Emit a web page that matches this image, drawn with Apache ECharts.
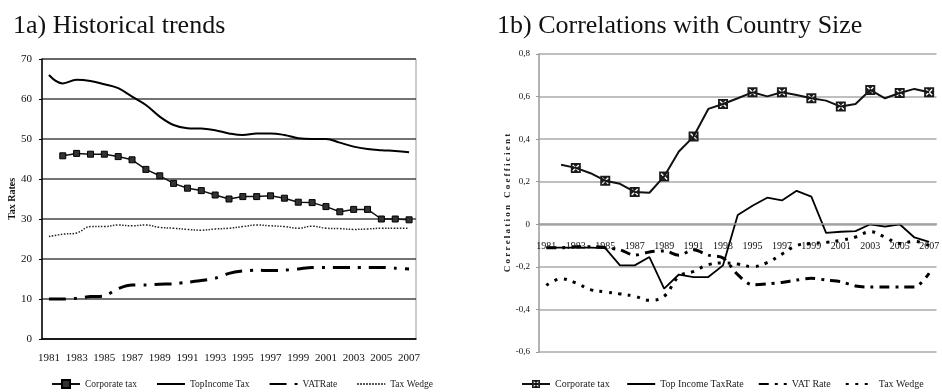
<!DOCTYPE html>
<html>
<head>
<meta charset="utf-8">
<script src="https://cdn.jsdelivr.net/npm/echarts@6/dist/echarts.min.js"></script>
<style>html,body{margin:0;padding:0;background:#fff;}#c{width:942px;height:392px;}</style>
</head>
<body>
<div id="c"></div>
<script>
const years = ['1981','1982','1983','1984','1985','1986','1987','1988','1989','1990','1991','1992','1993','1994','1995','1996','1997','1998','1999','2000','2001','2002','2003','2004','2005','2006','2007'];

// 1a) Historical trends
const corpTaxA   = [null, 45.8, 46.4, 46.2, 46.2, 45.6, 44.8, 42.4, 40.8, 38.9, 37.7, 37.1, 36.0, 35.0, 35.6, 35.6, 35.8, 35.2, 34.2, 34.1, 33.1, 31.8, 32.4, 32.4, 30.0, 30.0, 29.8];
const topIncomeA = [66.0, 63.9, 64.8, 64.5, 63.7, 62.7, 60.6, 58.5, 55.6, 53.5, 52.7, 52.6, 52.2, 51.4, 51.0, 51.4, 51.4, 51.0, 50.2, 50.0, 50.0, 49.1, 48.1, 47.5, 47.2, 47.0, 46.7];
const vatA       = [10.0, 10.0, 10.2, 10.6, 10.8, 12.6, 13.5, 13.5, 13.7, 13.8, 14.2, 14.6, 15.2, 16.4, 17.0, 17.2, 17.1, 17.2, 17.5, 17.9, 17.9, 17.9, 17.9, 17.9, 17.9, 17.7, 17.5];
const wedgeA     = [25.6, 26.2, 26.5, 28.1, 28.1, 28.5, 28.3, 28.5, 27.9, 27.7, 27.4, 27.2, 27.5, 27.7, 28.1, 28.5, 28.3, 28.1, 27.7, 28.2, 27.7, 27.6, 27.4, 27.5, 27.7, 27.7, 27.7];

// 1b) Correlations with Country Size
const corpTaxB   = [null, 0.28, 0.265, 0.24, 0.205, 0.19, 0.152, 0.148, 0.225, 0.342, 0.412, 0.542, 0.565, 0.592, 0.62, 0.601, 0.62, 0.607, 0.592, 0.581, 0.553, 0.565, 0.631, 0.592, 0.617, 0.636, 0.62];
const topIncomeB = [-0.11, -0.11, -0.11, -0.11, -0.112, -0.193, -0.193, -0.154, -0.302, -0.236, -0.248, -0.248, -0.193, 0.044, 0.087, 0.125, 0.112, 0.157, 0.13, -0.04, -0.035, -0.032, 0.0, -0.011, 0.0, -0.062, -0.083];
const vatB       = [-0.11, -0.11, -0.105, -0.105, -0.11, -0.12, -0.145, -0.13, -0.125, -0.145, -0.12, -0.145, -0.158, -0.237, -0.284, -0.28, -0.273, -0.262, -0.254, -0.262, -0.27, -0.29, -0.295, -0.295, -0.295, -0.295, -0.23];
const wedgeB     = [-0.287, -0.256, -0.275, -0.307, -0.318, -0.327, -0.338, -0.357, -0.338, -0.245, -0.221, -0.19, -0.182, -0.187, -0.199, -0.18, -0.14, -0.1, -0.09, -0.085, -0.075, -0.06, -0.035, -0.06, -0.09, -0.08, -0.1];

const titleA = '1a) Historical trends';
const titleB = '1b) Correlations with Country Size';
const legendA = ['Corporate tax', 'TopIncome Tax', 'VATRate', 'Tax Wedge'];
const legendB = ['Corporate tax ', 'Top Income TaxRate', 'VAT Rate', 'Tax Wedge '];

const serif = 'Liberation Serif';
const xSym = 'path://M0,0L20,0L20,20L0,20Z M3,5L8,10L3,15L5,17L10,12L15,17L17,15L12,10L17,5L15,3L10,8L5,3Z';
const legItem = (name, i) => (i === 0 ? {name: name} : {name: name, itemStyle: {opacity: 0}});

const chart = echarts.init(document.getElementById('c'), null, {renderer: 'canvas'});
chart.setOption({
  animation: false,
  backgroundColor: '#fff',
  title: [
    {text: titleA, left: 8, top: 8, textStyle: {fontFamily: serif, fontSize: 26, fontWeight: 'normal', color: '#111'}},
    {text: titleB, left: 492, top: 8, textStyle: {fontFamily: serif, fontSize: 26, fontWeight: 'normal', color: '#111'}}
  ],
  legend: [
    {data: legendA.map(legItem), left: 46, top: 374, width: 420, itemWidth: 28, itemHeight: 10, itemGap: 19,
     textStyle: {fontFamily: serif, fontSize: 9.5, color: '#222'}},
    {data: legendB.map(legItem), left: 516, top: 374, width: 440, itemWidth: 28, itemHeight: 10, itemGap: 14,
     textStyle: {fontFamily: serif, fontSize: 10, color: '#222'}}
  ],
  grid: [
    {left: 42, top: 59, width: 374, height: 280, show: true, borderColor: '#999', borderWidth: 1, backgroundColor: 'transparent'},
    {left: 539, top: 54, width: 405, height: 298}
  ],
  xAxis: [
    {type: 'category', gridIndex: 0, data: years, boundaryGap: true,
     axisLine: {lineStyle: {color: '#000', width: 1.5}},
     axisTick: {interval: 0, length: 4, lineStyle: {color: '#000'}},
     axisLabel: {interval: 1, margin: 14, fontFamily: serif, fontSize: 11, color: '#111'},
     splitLine: {show: false}},
    {type: 'category', gridIndex: 1, data: years, boundaryGap: true, offset: -128,
     axisLine: {onZero: false, lineStyle: {color: '#999', width: 1.5}},
     axisTick: {length: 4, lineStyle: {color: '#888'}},
     axisLabel: {interval: 1, margin: 17, fontFamily: serif, fontSize: 10, color: '#111'},
     splitLine: {show: false}, z: 5}
  ],
  yAxis: [
    {type: 'value', gridIndex: 0, min: 0, max: 70, interval: 10,
     name: 'Tax Rates', nameLocation: 'middle', nameGap: 24,
     nameTextStyle: {fontFamily: serif, fontSize: 10, fontWeight: 'bold', color: '#111'},
     axisLine: {show: true, lineStyle: {color: '#000', width: 1.5}},
     axisTick: {show: true, length: 3, lineStyle: {color: '#000'}},
     axisLabel: {margin: 10, fontFamily: serif, fontSize: 11, color: '#111'},
     splitLine: {lineStyle: {color: '#444', width: 1.5}}},
    {type: 'value', gridIndex: 1, min: -0.6, max: 0.8, interval: 0.2,
     name: 'C o r r e l a t i o n   C o e f f i c i e n t', nameLocation: 'middle', nameGap: 22,
     nameTextStyle: {fontFamily: serif, fontSize: 9, fontWeight: 'bold', color: '#222'},
     axisLine: {show: true, lineStyle: {color: '#999', width: 1.5}},
     axisTick: {show: true, length: 3, lineStyle: {color: '#999'}},
     axisLabel: {margin: 9, fontFamily: serif, fontSize: 9, color: '#111',
       formatter: v => (Math.abs(v) < 1e-9 ? '0' : v.toFixed(1).replace('.', ','))},
     splitLine: {lineStyle: {color: '#aaa', width: 1.5}}}
  ],
  series: [
    {name: legendA[0], type: 'line', xAxisIndex: 0, yAxisIndex: 0, data: corpTaxA,
     symbol: 'rect', symbolSize: 6, itemStyle: {color: '#333', borderColor: '#000', borderWidth: 1},
     lineStyle: {color: '#111', width: 1.5}},
    {name: legendA[1], type: 'line', xAxisIndex: 0, yAxisIndex: 0, data: topIncomeA,
     symbol: 'none', smooth: 0.4, itemStyle: {color: '#000'}, lineStyle: {color: '#000', width: 2}},
    {name: legendA[2], type: 'line', xAxisIndex: 0, yAxisIndex: 0, data: vatA,
     symbol: 'none', smooth: 0.3, itemStyle: {color: '#000'}, lineStyle: {color: '#000', width: 3, type: [17, 8, 3, 8]}},
    {name: legendA[3], type: 'line', xAxisIndex: 0, yAxisIndex: 0, data: wedgeA,
     symbol: 'none', smooth: 0.4, itemStyle: {color: '#222'}, lineStyle: {color: '#222', width: 1.5, type: [1.5, 1.5]}},

    {name: legendB[0], type: 'line', xAxisIndex: 1, yAxisIndex: 1, data: corpTaxB,
     symbol: xSym, symbolSize: 10, itemStyle: {color: '#1a1a1a'},
     lineStyle: {color: '#111', width: 2}},
    {name: legendB[1], type: 'line', xAxisIndex: 1, yAxisIndex: 1, data: topIncomeB,
     symbol: 'none', itemStyle: {color: '#000'}, lineStyle: {color: '#000', width: 1.8}},
    {name: legendB[2], type: 'line', xAxisIndex: 1, yAxisIndex: 1, data: vatB,
     symbol: 'none', smooth: 0.3, itemStyle: {color: '#000'}, lineStyle: {color: '#000', width: 3, type: [10, 6, 3, 6]}},
    {name: legendB[3], type: 'line', xAxisIndex: 1, yAxisIndex: 1, data: wedgeB,
     symbol: 'none', smooth: 0.4, itemStyle: {color: '#000'}, lineStyle: {color: '#000', width: 3, type: [3, 6.5]}}
  ]
});
</script>
</body>
</html>
